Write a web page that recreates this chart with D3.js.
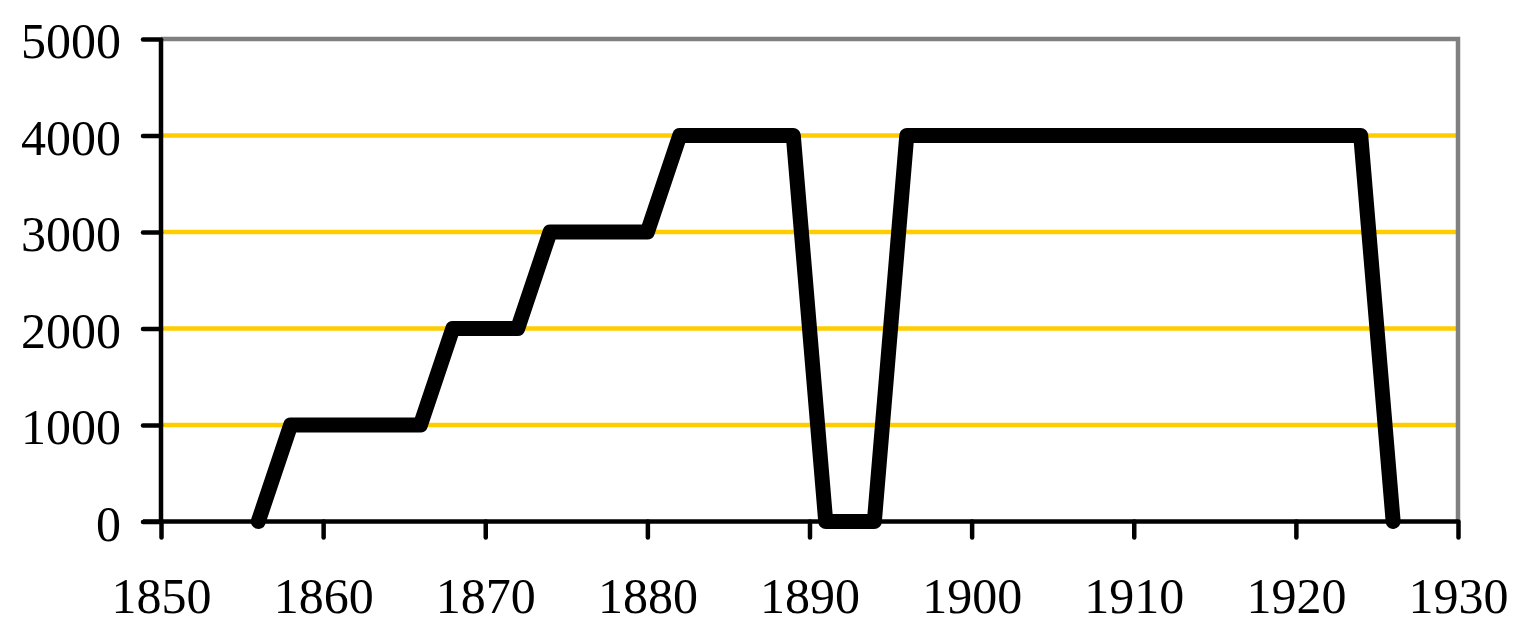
<!DOCTYPE html>
<html>
<head>
<meta charset="utf-8">
<script src="https://cdn.jsdelivr.net/npm/d3@7"></script>
<style>
  html, body { margin: 0; padding: 0; background: #fff; }
  svg { display: block; }
</style>
</head>
<body>
<svg id="chart" width="1529" height="642"></svg>
<script>
const years  = [1856, 1858, 1866, 1868, 1872, 1874, 1880, 1882, 1889, 1891, 1894, 1896, 1924, 1926];
const values = [0, 1000, 1000, 2000, 2000, 3000, 3000, 4000, 4000, 0, 0, 4000, 4000, 0];
const xTicks = [1850, 1860, 1870, 1880, 1890, 1900, 1910, 1920, 1930];
const yTicks = [0, 1000, 2000, 3000, 4000, 5000];

const svg = d3.select("#chart");
const x = d3.scaleLinear().domain([1850, 1930]).range([161, 1458]);
const y = d3.scaleLinear().domain([0, 5000]).range([521.5, 39]);
const font = "'Liberation Serif', 'Times New Roman', serif";

// gridlines
svg.append("g").selectAll("line")
  .data(yTicks.filter(d => d > 0 && d < 5000))
  .join("line")
  .attr("x1", x(1850)).attr("x2", x(1930))
  .attr("y1", d => y(d)).attr("y2", d => y(d))
  .attr("stroke", "#FFCC00").attr("stroke-width", 4.5);

// gray plot border (top and right)
svg.append("path")
  .attr("d", `M${x(1850)},${y(5000)}H${x(1930)}V${y(0)}`)
  .attr("fill", "none").attr("stroke", "#808080").attr("stroke-width", 4.5);

// y axis
const yAxis = svg.append("g").attr("transform", `translate(${x(1850)},0)`)
  .call(d3.axisLeft(y).tickValues(yTicks).tickSize(18).tickPadding(22).tickFormat(d3.format("d")));
yAxis.select(".domain").attr("stroke", "#000").attr("stroke-width", 4.5)
  .attr("d", `M0,${y(5000)}V${y(0)}`);
yAxis.selectAll(".tick line").attr("stroke", "#000").attr("stroke-width", 4.5).attr("stroke-linecap", "round");
yAxis.selectAll(".tick text").attr("font-family", font).attr("font-size", 50).attr("fill", "#000")
  .attr("dy", "0.37em");

// x axis
const xAxis = svg.append("g").attr("transform", `translate(0,${y(0)})`)
  .call(d3.axisBottom(x).tickValues(xTicks).tickSize(16).tickPadding(40).tickFormat(d3.format("d")));
xAxis.select(".domain").attr("stroke", "#000").attr("stroke-width", 4.5)
  .attr("d", `M${x(1850) - 18},0H${x(1930)}`);
xAxis.selectAll(".tick line").attr("stroke", "#000").attr("stroke-width", 4.5).attr("stroke-linecap", "round");
xAxis.selectAll(".tick text").attr("font-family", font).attr("font-size", 50).attr("fill", "#000");

// data line
const data = years.map((yr, i) => ({ yr, v: values[i] }));
svg.append("path")
  .datum(data)
  .attr("fill", "none")
  .attr("stroke", "#000")
  .attr("stroke-width", 15)
  .attr("stroke-linejoin", "round")
  .attr("stroke-linecap", "round")
  .attr("d", d3.line().x(d => x(d.yr)).y(d => y(d.v)));
</script>
</body>
</html>
